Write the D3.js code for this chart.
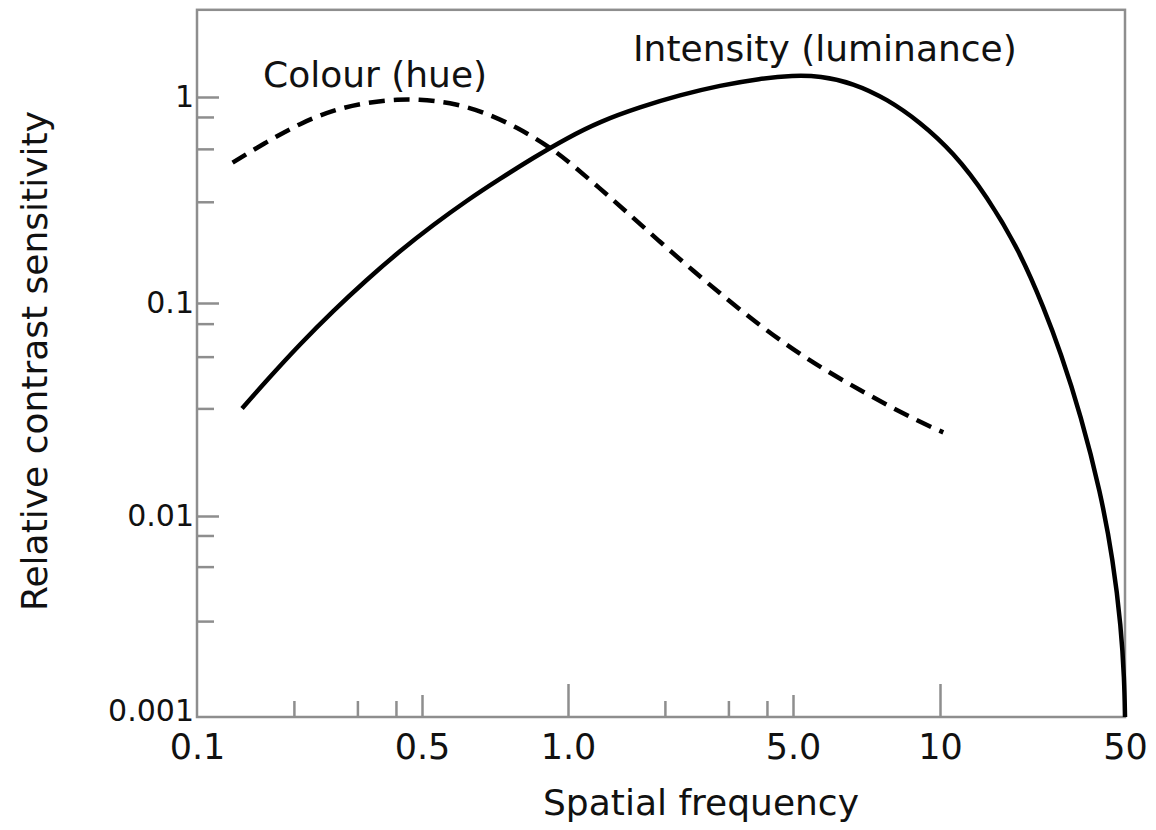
<!DOCTYPE html>
<html>
<head>
<meta charset="utf-8">
<script src="https://cdn.jsdelivr.net/npm/d3@7"></script>
<style>
  html, body { margin: 0; padding: 0; background: #fff; }
  svg { display: block; font-family: "DejaVu Sans", sans-serif; }
</style>
</head>
<body>
<svg id="chart" width="1156" height="830"></svg>
<script>
// ---------- data ----------
const xTickValues = [0.1, 0.5, 1, 5, 10, 50];
const xTickLabels = ["0.1", "0.5", "1.0", "5.0", "10", "50"];
const xLongTicks = [1, 10];
const xMidTicks = [0.5, 5];
const xMinorTicks = [0.2, 0.315, 0.415, 2, 3.15, 4.15];

const yTickValues = [1, 0.1, 0.01, 0.001];
const yTickLabels = ["1", "0.1", "0.01", "0.001"];
const yMajorTicks = [1, 0.1, 0.01];
const yMinorTicks = [0.8, 0.56, 0.31, 0.08, 0.056, 0.032, 0.008, 0.0056, 0.003];

// Colour (hue) – dashed
const colourX = [0.129, 0.165, 0.209, 0.265, 0.337, 0.427, 0.48, 0.571, 0.669, 0.784, 0.918, 0.994,
                 1.257, 1.522, 1.931, 2.451, 3.112, 3.949, 5.0, 5.861, 6.859, 8.024, 9.393, 10.29];
const colourY = [0.48, 0.607, 0.745, 0.865, 0.943, 0.975, 0.975, 0.943, 0.849, 0.715, 0.570, 0.494,
                 0.360, 0.2765, 0.198, 0.143, 0.1046, 0.0784, 0.0605, 0.0479, 0.0390, 0.0320, 0.0267, 0.0247];

// Intensity (luminance) – solid
const lumX = [0.138, 0.165, 0.209, 0.265, 0.337, 0.427, 0.528, 0.618, 0.724, 0.848, 0.994,
              1.257, 1.674, 2.228, 2.966, 3.949, 5.0, 5.679, 6.636, 7.789, 9.101,
              11.2, 15.05, 20.06, 24.78, 28.5, 34.04, 40.48, 45.06, 48.33, 49.7, 50];
const lumY = [0.032, 0.0435, 0.0642, 0.0920, 0.130, 0.179, 0.240, 0.314, 0.401, 0.507, 0.631,
              0.761, 0.894, 1.023, 1.137, 1.230, 1.272, 1.265, 1.169, 0.978, 0.756,
              0.541, 0.331, 0.177, 0.0937, 0.0589, 0.0298, 0.0128, 0.00604, 0.0028, 0.00153, 0.001];

const seriesLabels = ["Colour (hue)", "Intensity (luminance)"];
const xTitle = "Spatial frequency";
const yTitle = "Relative contrast sensitivity";

// ---------- layout ----------
const frameColor = "#8e8e8e";
const textColor = "#111";
const plotLeft = 197, plotRight = 1125, plotBottom = 717;
const yTopValue = 2.65;

const svg = d3.select("#chart");

// schematic (piecewise) logarithmic scales, as in the original figure
const x = d3.scaleLog()
  .domain(xTickValues)
  .range([plotLeft, 422, 568, 793, 940, plotRight]);
const y = d3.scaleLog()
  .domain([0.001, 0.01, 0.1, 1])
  .range([plotBottom, 516, 303, 97]);

// frame
svg.append("rect")
  .attr("x", plotLeft).attr("y", y(yTopValue))
  .attr("width", plotRight - plotLeft).attr("height", plotBottom - y(yTopValue))
  .attr("fill", "none").attr("stroke", frameColor).attr("stroke-width", 2.5);

function styleAxis(g) {
  g.select(".domain").remove();
  g.selectAll(".tick line").attr("stroke", frameColor).attr("stroke-width", 2.5);
}

// x ticks (pointing inward)
const xAxisG = svg.append("g").attr("transform", `translate(0,${plotBottom})`);
xAxisG.append("g").call(d3.axisBottom(x).tickValues(xLongTicks).tickSize(-33).tickFormat(""))
  .call(styleAxis);
xAxisG.append("g").call(d3.axisBottom(x).tickValues(xMidTicks).tickSize(-22).tickFormat(""))
  .call(styleAxis);
xAxisG.append("g").call(d3.axisBottom(x).tickValues(xMinorTicks).tickSize(-16).tickFormat(""))
  .call(styleAxis);
xAxisG.append("g")
  .call(d3.axisBottom(x).tickValues(xTickValues).tickSize(0).tickPadding(17)
    .tickFormat((d, i) => xTickLabels[i]))
  .call(g => {
    g.select(".domain").remove();
    g.selectAll(".tick line").remove();
    g.selectAll(".tick text").attr("font-size", 35).attr("fill", textColor)
      .attr("font-family", "DejaVu Sans");
  });

// y ticks (pointing inward)
const yAxisG = svg.append("g").attr("transform", `translate(${plotLeft},0)`);
yAxisG.append("g").call(d3.axisLeft(y).tickValues(yMajorTicks).tickSize(-22).tickFormat(""))
  .call(styleAxis);
yAxisG.append("g").call(d3.axisLeft(y).tickValues(yMinorTicks).tickSize(-17).tickFormat(""))
  .call(styleAxis);
yAxisG.append("g")
  .call(d3.axisLeft(y).tickValues(yTickValues).tickSize(0).tickPadding(3)
    .tickFormat((d, i) => yTickLabels[i]))
  .call(g => {
    g.select(".domain").remove();
    g.selectAll(".tick line").remove();
    g.selectAll(".tick text").attr("font-size", 30).attr("fill", textColor)
      .attr("font-family", "DejaVu Sans")
      .attr("dy", d => d === 0.001 ? "0.1em" : "0.32em");
  });

// curves
const line = d3.line()
  .x(d => x(d[0]))
  .y(d => y(d[1]))
  .curve(d3.curveBasis);

svg.append("path")
  .datum(colourX.map((v, i) => [v, colourY[i]]))
  .attr("d", line)
  .attr("fill", "none").attr("stroke", "#000")
  .attr("stroke-width", 4.5)
  .attr("stroke-dasharray", "16,9");

svg.append("path")
  .datum(lumX.map((v, i) => [v, lumY[i]]))
  .attr("d", line)
  .attr("fill", "none").attr("stroke", "#000")
  .attr("stroke-width", 4.5);

// series labels
svg.append("text").attr("x", 263).attr("y", 87)
  .attr("font-size", 36).attr("fill", textColor).text(seriesLabels[0]);
svg.append("text").attr("x", 633).attr("y", 61)
  .attr("font-size", 36).attr("fill", textColor).text(seriesLabels[1]);

// axis titles
svg.append("text").attr("x", 701).attr("y", 815)
  .attr("text-anchor", "middle").attr("font-size", 36).attr("fill", textColor).text(xTitle);
svg.append("text")
  .attr("transform", "translate(47,361) rotate(-90)")
  .attr("text-anchor", "middle").attr("font-size", 36).attr("fill", textColor).text(yTitle);
</script>
</body>
</html>
